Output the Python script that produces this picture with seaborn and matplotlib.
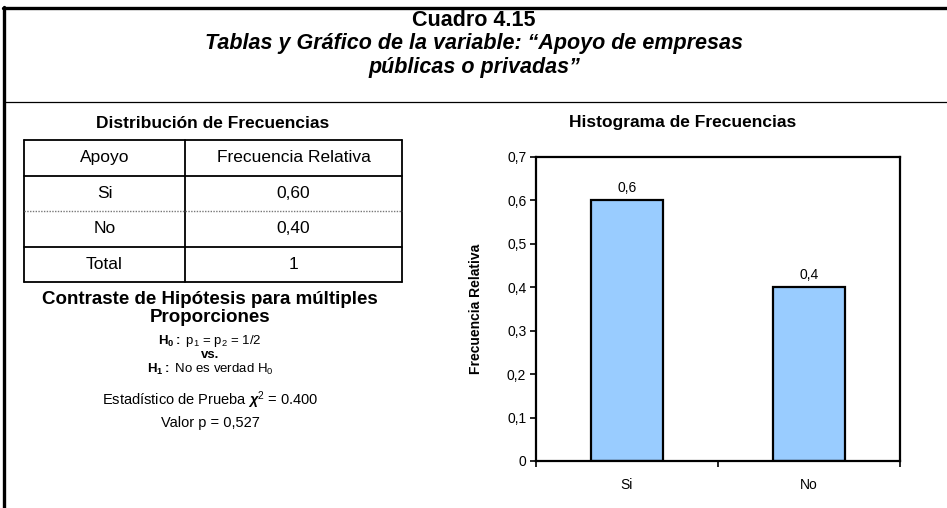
import matplotlib
matplotlib.use("Agg")
import matplotlib.pyplot as plt
import seaborn as sns
import pandas as pd
from matplotlib.lines import Line2D
from matplotlib.ticker import FixedLocator, FuncFormatter

# datos
categorias = ["Si", "No"]
frecuencia_relativa = [0.60, 0.40]
total = 1
estadistico = 0.400
valor_p = 0.527
y_ticks = [0, 0.1, 0.2, 0.3, 0.4, 0.5, 0.6, 0.7]


def coma(v, dec=None):
    s = f"{v:.{dec}f}" if dec is not None else f"{v:g}"
    return s.replace(".", ",")


sns.set_theme(style="white")
plt.rcParams['font.family'] = ['Liberation Sans', 'DejaVu Sans']
plt.rcParams['text.color'] = 'black'
plt.rcParams['axes.labelcolor'] = 'black'
plt.rcParams['xtick.color'] = 'black'
plt.rcParams['ytick.color'] = 'black'
plt.rcParams['mathtext.fontset'] = 'custom'
plt.rcParams['mathtext.rm'] = 'Liberation Sans'
plt.rcParams['mathtext.it'] = 'Liberation Sans:italic'
plt.rcParams['mathtext.bf'] = 'Liberation Sans:bold'
plt.rcParams['mathtext.bfit'] = 'Liberation Sans:bold:italic'

W, H = 947, 508
fig = plt.figure(figsize=(W / 100, H / 100), dpi=100)


def fx(x):
    return x / W


def fy(y):
    return 1 - y / H


def linea(x0, y0, x1, y1, lw, **kw):
    fig.add_artist(Line2D([fx(x0), fx(x1)], [fy(y0), fy(y1)], transform=fig.transFigure,
                          color=kw.pop('color', 'black'), lw=lw, **kw))


def texto(x, y, s, **kw):
    fig.text(fx(x), fy(y), s, ha='center', va='center', **kw)


# marco del cuadro
linea(3, 8, W, 8, 2.4)
linea(4, 7, 4, H, 2.4)
linea(4, 102, W, 102, 0.9)

texto(474, 20, "Cuadro 4.15", fontsize=15.5, fontweight='bold')
texto(474, 44, "Tablas y Gráfico de la variable: “Apoyo de empresas", fontsize=15.5,
      fontweight='bold', style='italic')
texto(474, 67, "públicas o privadas”", fontsize=15.5, fontweight='bold', style='italic')

# tabla de distribucion de frecuencias
texto(213, 123, "Distribución de Frecuencias", fontsize=12.5, fontweight='bold')
tx0, tx1, tdiv = 24, 402, 185
filas_y = [140, 175.5, 211, 246.5, 282]
linea(tx0, filas_y[0], tx1, filas_y[0], 1.3)
linea(tx0, filas_y[-1], tx1, filas_y[-1], 1.3)
linea(tx0, filas_y[0], tx0, filas_y[-1], 1.3)
linea(tx1, filas_y[0], tx1, filas_y[-1], 1.3)
linea(tdiv, filas_y[0], tdiv, filas_y[-1], 1.3)
linea(tx0, filas_y[1], tx1, filas_y[1], 1.3)
linea(tx0, filas_y[2], tx1, filas_y[2], 1.0, color='#777777', linestyle=(0, (1, 1)))
linea(tx0, filas_y[3], tx1, filas_y[3], 1.3)

filas = [("Apoyo", "Frecuencia Relativa")]
filas += [(c, coma(v, 2)) for c, v in zip(categorias, frecuencia_relativa)]
filas += [("Total", str(total))]
for i, (a, b) in enumerate(filas):
    yc = (filas_y[i] + filas_y[i + 1]) / 2
    texto((tx0 + tdiv) / 2, yc, a, fontsize=12.5)
    texto((tdiv + tx1) / 2, yc, b, fontsize=12.5)

# contraste de hipotesis
texto(210, 299, "Contraste de Hipótesis para múltiples", fontsize=13.5, fontweight='bold')
texto(210, 318, "Proporciones", fontsize=13.5, fontweight='bold')
texto(210, 341, r"$\mathbf{H_0:}$ p$_1$ = p$_2$ = 1/2", fontsize=9.5)
texto(210, 355, "vs.", fontsize=9.5, fontweight='bold')
texto(210, 369, r"$\mathbf{H_1:}$ No es verdad H$_0$", fontsize=9.5)
texto(210, 400, r"Estadístico de Prueba $\boldsymbol{\chi}^{2}$ = " + f"{estadistico:.3f}", fontsize=10.5)
texto(210, 423, f"Valor p = {coma(valor_p, 3)}", fontsize=10.5)

# histograma de frecuencias
texto(683, 123, "Histograma de Frecuencias", fontsize=12.5, fontweight='bold')
ax = fig.add_axes([fx(536), fy(461), fx(900) - fx(536), fy(157) - fy(461)])
df = pd.DataFrame({'Apoyo': categorias, 'Frecuencia': frecuencia_relativa})
sns.barplot(data=df, x='Apoyo', y='Frecuencia', color='#99CCFF', saturation=1,
            edgecolor='black', linewidth=1.6, width=0.4, ax=ax)
for cont in ax.containers:
    ax.bar_label(cont, labels=[coma(v) for v in cont.datavalues], padding=4, fontsize=10)

ax.set_xlim(-0.5, 1.5)
ax.set_ylim(0, 0.7)
ax.set_yticks(y_ticks)
ax.yaxis.set_major_formatter(FuncFormatter(lambda v, p: coma(round(v, 1))))
ax.xaxis.set_minor_locator(FixedLocator([-0.5, 0.5, 1.5]))
ax.tick_params(axis='x', which='major', length=0, pad=12, labelsize=10)
ax.tick_params(axis='x', which='minor', length=4, width=1.2, direction='out', bottom=True)
ax.tick_params(axis='y', length=4, width=1.2, direction='out', left=True, labelsize=10, pad=3)
ax.set_xlabel("")
ax.set_ylabel("Frecuencia Relativa", fontsize=10, fontweight='bold')
ax.yaxis.set_label_coords(-0.145, 0.5)
for sp in ax.spines.values():
    sp.set_color('black')
    sp.set_linewidth(1.6)
ax.grid(False)

fig.savefig("out.png", dpi=100)
